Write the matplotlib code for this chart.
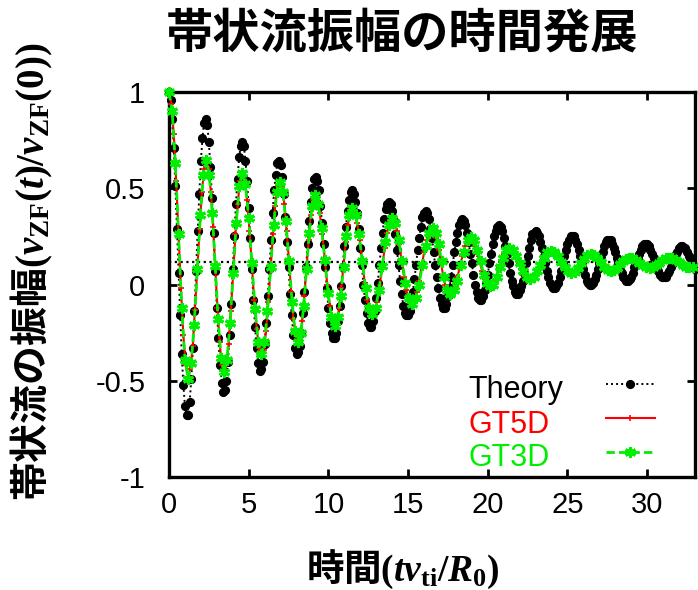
import numpy as np
import matplotlib
matplotlib.use("Agg")
import matplotlib.pyplot as plt

plt.rcParams['font.family'] = ['Liberation Sans', 'DejaVu Sans']
plt.rcParams['mathtext.fontset'] = 'custom'
plt.rcParams['mathtext.rm'] = 'Liberation Serif:bold'
plt.rcParams['mathtext.it'] = 'Liberation Serif:italic:bold'
plt.rcParams['mathtext.bf'] = 'Liberation Serif:bold'

# ---------------- data ----------------
# theory curve, sampled every 0.1 (one row = one GAM period)
dt_theory = 0.1
theory_v = [
    1.00, .96, .86, .71, .51, .29, .06, -.16, -.36, -.52, -.63, -.68, -.68, -.61, -.49, -.33, -.14, .07, .28, .47, .64, .76, .84,
    .86, .83, .74, .61, .45, .27, .07, -.12, -.28, -.42, -.51, -.56, -.55, -.50, -.40, -.26, -.10, .08, .25, .42, .55, .66, .72,
    .74, .72, .64, .54, .40, .24, .08, -.08, -.22, -.33, -.41, -.45, -.44, -.40, -.31, -.20, -.06, .08, .23, .37, .49, .57, .63,
    .64, .62, .56, .47, .35, .22, .09, -.05, -.16, -.26, -.33, -.36, -.35, -.32, -.25, -.15, -.04, .09, .21, .33, .43, .50, .55,
    .56, .54, .49, .41, .32, .21, .09, -.02, -.12, -.20, -.25, -.28, -.28, -.25, -.19, -.11, -.01, .09, .20, .30, .38, .44, .48,
    .49, .47, .43, .37, .29, .19, .10, .00, -.08, -.15, -.20, -.22, -.22, -.19, -.14, -.07, .01, .10, .19, .27, .34, .39, .42,
    .43, .42, .38, .33, .26, .18, .10, .02, -.05, -.11, -.15, -.16, -.16, -.14, -.10, -.04, .03, .10, .18, .24, .30, .35, .37,
    .38, .37, .34, .29, .24, .17, .10, .04, -.02, -.07, -.10, -.12, -.12, -.10, -.06, -.02, .04, .10, .17, .22, .27, .31, .33,
    .34, .33, .31, .27, .22, .16, .11, .05, .00, -.04, -.07, -.08, -.08, -.06, -.03, .01, .05, .11, .16, .21, .25, .28, .30,
    .31, .30, .28, .24, .20, .16, .11, .06, .02, -.01, -.04, -.05, -.05, -.03, -.01, .02, .06, .11, .15, .19, .23, .26, .27,
    .28, .27, .25, .22, .19, .15, .11, .07, .04, .01, -.01, -.02, -.02, -.01, .01, .04, .07, .11, .15, .18, .21, .23, .25,
    .25, .25, .23, .21, .18, .15, .11, .08, .05, .02, .01, .00, .00, .01, .03, .05, .08, .11, .14, .17, .20, .22, .23,
    .23, .23, .21, .19, .17, .14, .11, .08, .06, .04, .03, .02, .02, .03, .04, .06, .09, .11, .14, .16, .18, .20, .21,
    .21, .21, .20, .18, .16, .14, .11, .09, .07, .05, .04, .04, .04, .04, .06, .07, .09, .11, .14, .16, .17, .19, .20,
    .20, .19, .19, .17, .15, .14, .11, .10, .08,
]
t_theory = np.arange(len(theory_v)) * dt_theory

gt5d_t = [
    0.00, 0.15, 0.30, 0.45, 0.60, 0.75, 0.90, 1.05,
    1.20, 1.34, 1.49, 1.63, 1.78, 1.92, 2.06, 2.21,
    2.35, 2.49, 2.63, 2.77, 2.90, 3.04, 3.18, 3.31,
    3.45, 3.59, 3.74, 3.88, 4.03, 4.17, 4.31, 4.46,
    4.60, 4.75, 4.90, 5.05, 5.20, 5.35, 5.50, 5.65,
    5.80, 5.94, 6.09, 6.23, 6.38, 6.52, 6.66, 6.81,
    6.95, 7.09, 7.24, 7.38, 7.53, 7.67, 7.81, 7.96,
    8.10, 8.23, 8.36, 8.49, 8.63, 8.76, 8.89, 9.02,
    9.15, 9.31, 9.46, 9.62, 9.78, 9.93, 10.09, 10.24,
    10.40, 10.54, 10.68, 10.81, 10.95, 11.09, 11.23, 11.36,
    11.50, 11.66, 11.81, 11.97, 12.13, 12.28, 12.44, 12.59,
    12.75, 12.91, 13.06, 13.22, 13.38, 13.53, 13.69, 13.84,
    14.00, 14.15, 14.30, 14.45, 14.60, 14.75, 14.90, 15.05,
    15.20, 15.36, 15.53, 15.69, 15.85, 16.01, 16.18, 16.34,
    16.50, 16.64, 16.78, 16.91, 17.05, 17.19, 17.33, 17.46,
    17.60, 17.76, 17.93, 18.09, 18.25, 18.41, 18.58, 18.74,
    18.90, 19.05, 19.20, 19.35, 19.50, 19.65, 19.80, 19.95,
    20.10, 20.25, 20.40, 20.55, 20.70, 20.85, 21.00, 21.15,
    21.30, 21.46, 21.63, 21.79, 21.95, 22.11, 22.28, 22.44,
    22.60, 22.76, 22.93, 23.09, 23.25, 23.41, 23.58, 23.74,
    23.90, 24.06, 24.23, 24.39, 24.55, 24.71, 24.88, 25.04,
    25.20, 25.35, 25.50, 25.65, 25.80, 25.95, 26.10, 26.25,
    26.40, 26.56, 26.73, 26.89, 27.05, 27.21, 27.38, 27.54,
    27.70, 27.84, 27.98, 28.11, 28.25, 28.39, 28.53, 28.66,
    28.80, 28.96, 29.13, 29.29, 29.45, 29.61, 29.78, 29.94,
    30.10, 30.25, 30.40, 30.55, 30.70, 30.85, 31.00, 31.15,
    31.30, 31.46, 31.63, 31.79, 31.95, 32.11, 32.28, 32.44,
    32.60, 32.76, 32.93,
]
gt5d_v = [
    1.00, 0.94, 0.78, 0.54, 0.26, -0.02, -0.26, -0.42,
    -0.48, -0.44, -0.32, -0.13, 0.08, 0.29, 0.48, 0.60,
    0.64, 0.60, 0.48, 0.30, 0.09, -0.12, -0.30, -0.42,
    -0.46, -0.42, -0.31, -0.14, 0.06, 0.26, 0.42, 0.54,
    0.575, 0.54, 0.44, 0.28, 0.10, -0.08, -0.23, -0.33,
    -0.37, -0.34, -0.24, -0.09, 0.085, 0.26, 0.41, 0.51,
    0.54, 0.51, 0.42, 0.28, 0.12, -0.04, -0.18, -0.27,
    -0.30, -0.27, -0.19, -0.06, 0.085, 0.23, 0.36, 0.44,
    0.47, 0.44, 0.37, 0.26, 0.13, 0.00, -0.11, -0.18,
    -0.21, -0.19, -0.12, -0.02, 0.10, 0.22, 0.31, 0.38,
    0.405, 0.38, 0.32, 0.23, 0.12, 0.01, -0.08, -0.14,
    -0.16, -0.14, -0.09, 0.00, 0.09, 0.19, 0.27, 0.33,
    0.345, 0.33, 0.28, 0.21, 0.12, 0.04, -0.03, -0.08,
    -0.10, -0.09, -0.04, 0.02, 0.095, 0.17, 0.23, 0.28,
    0.29, 0.28, 0.24, 0.18, 0.12, 0.05, 0.00, -0.04,
    -0.055, -0.04, -0.01, 0.04, 0.09, 0.15, 0.20, 0.23,
    0.24, 0.23, 0.20, 0.16, 0.115, 0.07, 0.03, 0.00,
    -0.01, 0.00, 0.02, 0.05, 0.09, 0.13, 0.16, 0.18,
    0.19, 0.18, 0.17, 0.14, 0.11, 0.08, 0.05, 0.03,
    0.025, 0.03, 0.05, 0.07, 0.10, 0.13, 0.15, 0.17,
    0.175, 0.17, 0.16, 0.14, 0.12, 0.10, 0.08, 0.06,
    0.06, 0.064, 0.075, 0.09, 0.11, 0.13, 0.145, 0.156,
    0.16, 0.156, 0.146, 0.131, 0.113, 0.094, 0.079, 0.069,
    0.065, 0.068, 0.076, 0.088, 0.103, 0.117, 0.129, 0.137,
    0.14, 0.138, 0.132, 0.123, 0.113, 0.102, 0.093, 0.087,
    0.085, 0.087, 0.093, 0.102, 0.113, 0.123, 0.132, 0.138,
    0.14, 0.138, 0.133, 0.125, 0.115, 0.105, 0.097, 0.092,
    0.09, 0.091, 0.096,
]

gt3d_t = [
    0.00, 0.20, 0.40, 0.60, 0.80, 1.00,
    1.20, 1.39, 1.58, 1.78, 1.97, 2.16,
    2.35, 2.53, 2.72, 2.90, 3.08, 3.27,
    3.45, 3.64, 3.83, 4.03, 4.22, 4.41,
    4.60, 4.80, 5.00, 5.20, 5.40, 5.60,
    5.80, 5.99, 6.18, 6.38, 6.57, 6.76,
    6.95, 7.14, 7.33, 7.53, 7.72, 7.91,
    8.10, 8.28, 8.45, 8.63, 8.80, 8.98,
    9.15, 9.36, 9.57, 9.78, 9.98, 10.19,
    10.40, 10.58, 10.77, 10.95, 11.13, 11.32,
    11.50, 11.71, 11.92, 12.13, 12.33, 12.54,
    12.75, 12.96, 13.17, 13.38, 13.58, 13.79,
    14.00, 14.21, 14.42, 14.63, 14.83, 15.04,
    15.25, 15.47, 15.68, 15.90, 16.12, 16.33,
    16.55, 16.73, 16.92, 17.10, 17.28, 17.47,
    17.65, 17.87, 18.08, 18.30, 18.52, 18.73,
    18.95, 19.15, 19.35, 19.55, 19.75, 19.95,
    20.15, 20.35, 20.55, 20.75, 20.95, 21.15,
    21.35, 21.57, 21.78, 22.00, 22.22, 22.43,
    22.65, 22.87, 23.08, 23.30, 23.52, 23.73,
    23.95, 24.17, 24.38, 24.60, 24.82, 25.03,
    25.25, 25.45, 25.65, 25.85, 26.05, 26.25,
    26.45, 26.67, 26.88, 27.10, 27.32, 27.53,
    27.75, 27.93, 28.12, 28.30, 28.48, 28.67,
    28.85, 29.07, 29.28, 29.50, 29.72, 29.93,
    30.15, 30.35, 30.55, 30.75, 30.95, 31.15,
    31.35, 31.57, 31.78, 32.00, 32.22, 32.43,
    32.65, 32.85,
]
gt3d_v = [
    1.00, 0.90, 0.63, 0.26, -0.12, -0.39,
    -0.49, -0.41, -0.21, 0.08, 0.36, 0.57,
    0.645, 0.57, 0.37, 0.095, -0.18, -0.38,
    -0.455, -0.39, -0.20, 0.06, 0.32, 0.51,
    0.58, 0.52, 0.345, 0.11, -0.125, -0.30,
    -0.36, -0.30, -0.14, 0.09, 0.31, 0.48,
    0.535, 0.48, 0.33, 0.12, -0.09, -0.24,
    -0.30, -0.25, -0.11, 0.08, 0.27, 0.41,
    0.465, 0.42, 0.295, 0.125, -0.045, -0.17,
    -0.215, -0.17, -0.06, 0.09, 0.25, 0.36,
    0.40, 0.36, 0.26, 0.12, -0.02, -0.12,
    -0.155, -0.12, -0.03, 0.095, 0.22, 0.31,
    0.345, 0.32, 0.23, 0.12, 0.01, -0.07,
    -0.10, -0.07, 0.00, 0.10, 0.20, 0.27,
    0.295, 0.27, 0.21, 0.12, 0.04, -0.03,
    -0.05, -0.03, 0.02, 0.10, 0.17, 0.23,
    0.245, 0.23, 0.18, 0.12, 0.05, 0.01,
    -0.01, 0.00, 0.04, 0.09, 0.14, 0.18,
    0.19, 0.18, 0.15, 0.11, 0.07, 0.04,
    0.03, 0.04, 0.07, 0.10, 0.14, 0.17,
    0.175, 0.167, 0.146, 0.118, 0.089, 0.068,
    0.06, 0.067, 0.085, 0.11, 0.135, 0.153,
    0.16, 0.154, 0.138, 0.115, 0.093, 0.076,
    0.07, 0.075, 0.088, 0.105, 0.123, 0.135,
    0.14, 0.136, 0.126, 0.113, 0.099, 0.089,
    0.085, 0.089, 0.099, 0.113, 0.126, 0.136,
    0.14, 0.137, 0.128, 0.115, 0.103, 0.093,
    0.09, 0.092,
]

# residual (Rosenbluth-Hinton) level
rh_level = 0.117

x_ticks = [0, 5, 10, 15, 20, 25, 30]
y_ticks = [-1, -0.5, 0, 0.5, 1]
y_ticklabels = ['-1', '-0.5', '0', '0.5', '1']

series_names = ['Theory', 'GT5D', 'GT3D']
green = '#00ee00'
series_colors = ['black', 'red', green]
jp = ['Noto Sans CJK JP', 'DejaVu Sans']

# ---------------- plot ----------------
fig = plt.figure(figsize=(6.98, 5.90), dpi=100)
ax = fig.add_axes([0.2421, 0.1915, 0.7536, 0.6525])

ax.axhline(rh_level, color='black', lw=1.6, ls=(0, (1, 1.6)), zorder=1)

l_th, = ax.plot(t_theory, theory_v, color='black', lw=1.4, ls=(0, (1, 1.6)),
                marker='o', ms=5.6, mec='black', mfc='black', zorder=2,
                clip_on=False)
l_5d, = ax.plot(gt5d_t, gt5d_v, color='red', lw=1.5, ls='-',
                marker='+', ms=5, mew=1.2, zorder=3, clip_on=False)
l_3d, = ax.plot(gt3d_t, gt3d_v, color=green, lw=2.0, ls=(0, (3, 1.5)),
                marker=(6, 2, 0), ms=8, mew=2.2, mec=green, zorder=4,
                clip_on=False)

ax.set_xlim(0, 33)
ax.set_ylim(-1, 1)
ax.set_xticks(x_ticks)
ax.set_yticks(y_ticks)
ax.set_yticklabels(y_ticklabels)
ax.tick_params(direction='in', length=6, width=2, top=True, right=True,
               labelsize=21)
ax.tick_params(axis='x', pad=10)
ax.tick_params(axis='y', pad=17)
for s in ax.spines.values():
    s.set_linewidth(2.4)

# gnuplot-style key: left-aligned coloured names, samples to the right
ax.legend(handles=[l_th, l_5d, l_3d], labels=[' ', ' ', ' '], loc='upper left',
          bbox_to_anchor=(606 / 698, 1 - 372 / 590),
          bbox_transform=fig.transFigure, frameon=False, numpoints=1,
          handlelength=1.6, handletextpad=0.0, labelspacing=0.13,
          borderpad=0, borderaxespad=0,
          prop={'family': 'Liberation Sans', 'size': 22})
key_baselines = [398, 433, 466]
for name, col, yb in zip(series_names, series_colors, key_baselines):
    fig.text(468 / 698, 1 - yb / 590, name, color=col, fontsize=22,
             family='Liberation Sans', ha='left', va='baseline')

fig.text(402 / 698, 1 - 33 / 590, '帯状流振幅の時間発展', ha='center', va='center',
         fontsize=34, fontweight='bold', family=jp)
fig.text(403 / 698, 1 - 569 / 590, r'時間$(tv_{\mathrm{ti}}/R_0)$',
         ha='center', va='center', fontsize=27, fontweight='bold', family=jp)
fig.text(32 / 698, 1 - 272 / 590,
         r'帯状流の振幅$(v_{\mathrm{ZF}}(t)/v_{\mathrm{ZF}}(0))$',
         ha='center', va='center', rotation=90, fontsize=28,
         fontweight='bold', family=jp)

fig.savefig('out.png', dpi=100)
